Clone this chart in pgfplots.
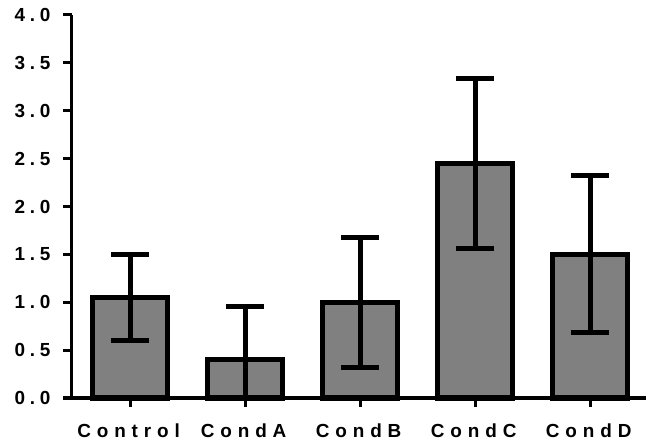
\documentclass[border=0pt]{standalone}
\usepackage{fontspec}
\usepackage{pgfplots}
\pgfplotsset{compat=1.18}
\newfontfamily\xlblfont{Liberation Sans}[LetterSpace=31]
\newfontfamily\ylblfont{Liberation Sans}[LetterSpace=25]
\definecolor{barfill}{RGB}{128,128,128}

\begin{document}
\begin{tikzpicture}
\path[use as bounding box] (-72bp,-44bp) rectangle (574bp,398bp);
\begin{axis}[
  at={(0,0)}, anchor=south west,
  scale only axis,
  width=574bp, height=383bp,
  xmin=-0.505, xmax=4.485,
  ymin=0, ymax=4,
  axis x line=bottom, axis y line=left,
  axis line style={line width=3bp, -},
  clip=false,
  xtick={0,1,2,3,4},
  xticklabels={Control,CondA,CondB,CondC,CondD},
  ytick={0,0.5,...,4},
  yticklabels={0.0,0.5,1.0,1.5,2.0,2.5,3.0,3.5,4.0},
  tick align=outside,
  major tick length=9bp,
  tick style={line width=3bp, black},
  xticklabel style={font=\xlblfont\bfseries\fontsize{19}{22}\selectfont, yshift=-13bp, xshift=-1.5bp},
  yticklabel style={font=\ylblfont\bfseries\fontsize{19}{22}\selectfont, xshift=-9bp},
  axis on top,
]
\addplot[ybar, bar width=75bp, fill=barfill, draw=black, line width=5bp,
  error bars/.cd, y dir=both, y explicit,
  error mark=|,
  error bar style={line width=5bp, black},
  error mark options={line width=5bp, black, mark size=19bp}]
  coordinates {
    (0,1.05) +- (0,0.45)
    (1,0.40) += (0,0.56) -= (0,0.39)
    (2,1.00) +- (0,0.68)
    (3,2.45) +- (0,0.89)
    (4,1.50) +- (0,0.82)
  };
\end{axis}
\end{tikzpicture}
\end{document}
